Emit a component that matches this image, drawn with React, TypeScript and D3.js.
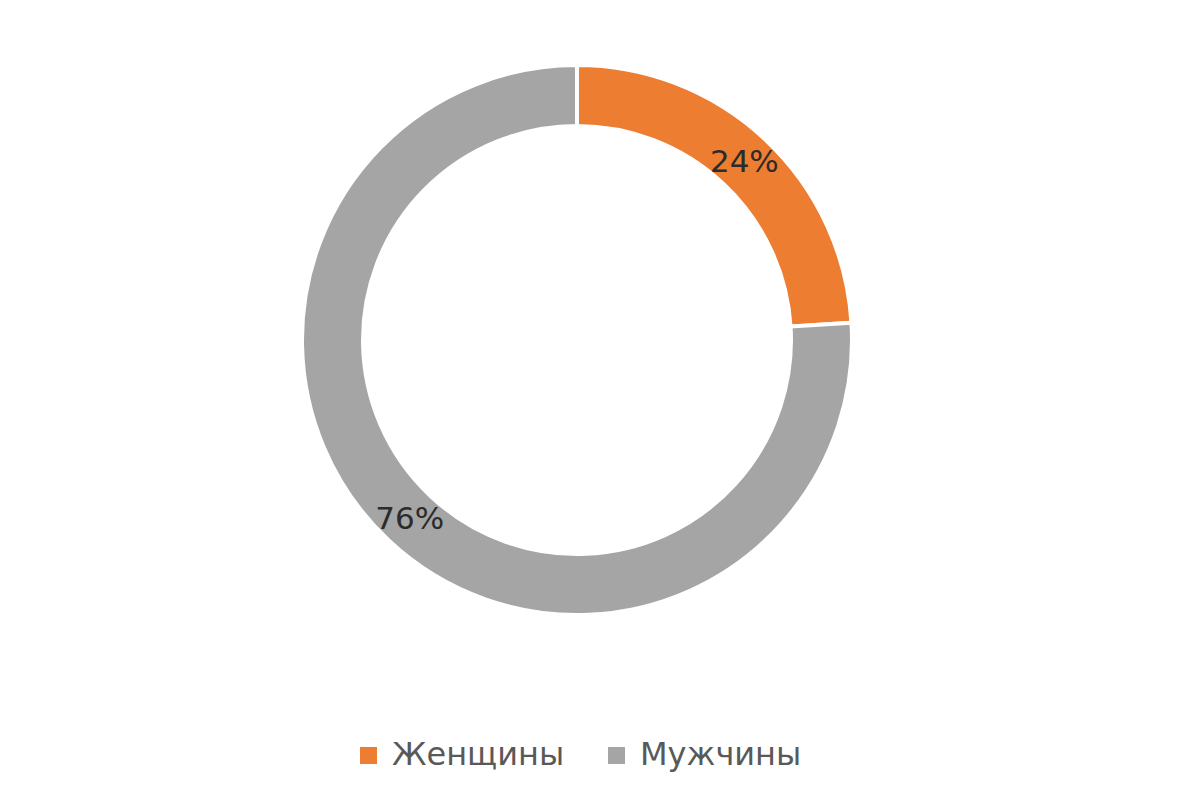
import React from "react";
import * as d3 from "d3";

const categories = ["Женщины", "Мужчины"];
const values = [24, 76];
const colors = ["#ED7D31", "#A5A5A5"];

export default function App() {
  const width = 1200;
  const height = 800;
  const cx = 577;
  const cy = 340;
  const outerR = 275;
  const innerR = 214;

  const pie = d3.pie<number>().sort(null).value((d) => d);
  const arcs = pie(values);
  const arc = d3.arc<d3.PieArcDatum<number>>().innerRadius(innerR).outerRadius(outerR);
  const total = d3.sum(values);

  const legendX = [360, 608];

  return (
    <svg
      width={width}
      height={height}
      style={{ position: "absolute", left: 0, top: 0, background: "#fff" }}
      fontFamily="'DejaVu Sans', sans-serif"
    >
      <g transform={`translate(${cx},${cy})`}>
        {arcs.map((a, i) => (
          <path key={i} d={arc(a) || ""} fill={colors[i]} stroke="#fff" strokeWidth={4} />
        ))}
        {arcs.map((a, i) => {
          const [x, y] = arc.centroid(a);
          return (
            <text
              key={"l" + i}
              x={x}
              y={y + 2}
              textAnchor="middle"
              dominantBaseline="middle"
              fontSize={31}
              fill="#2b2b2b"
            >
              {Math.round((values[i] / total) * 100)}%
            </text>
          );
        })}
      </g>
      {categories.map((c, i) => (
        <g key={"g" + i}>
          <rect x={legendX[i]} y={747} width={17} height={17} fill={colors[i]} />
          <text x={legendX[i] + 32} y={756} dominantBaseline="middle" fontSize={32} fill="#595959">
            {c}
          </text>
        </g>
      ))}
    </svg>
  );
}
